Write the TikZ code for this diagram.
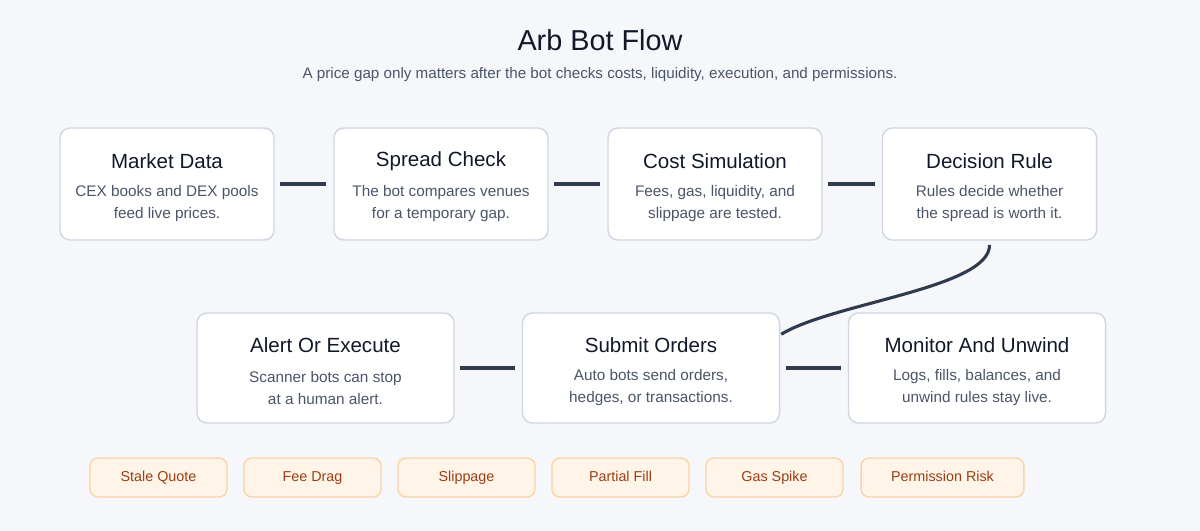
\documentclass[tikz,border=0pt]{standalone}
\usepackage{fontspec}
\setmainfont{Liberation Sans}
\usetikzlibrary{calc}
\definecolor{bgpage}{HTML}{F6F7FB}
\definecolor{cardline}{HTML}{CFD6E2}
\definecolor{ink}{HTML}{111827}
\definecolor{slate}{HTML}{4B5568}
\definecolor{wire}{HTML}{2F3A4C}
\definecolor{chipfill}{HTML}{FFF4E8}
\definecolor{chipline}{HTML}{FAD3A8}
\definecolor{chiptext}{HTML}{9A3E16}

\begin{document}
\begin{tikzpicture}[x=0.025cm, y=-0.025cm,
    card/.style={draw=cardline, line width=1pt, rounded corners=0.25cm, fill=white,
                 minimum width=5.35cm, minimum height=2.8cm},
    widecard/.style={card, minimum width=6.425cm, minimum height=2.75cm},
    ttl/.style={font=\fontsize{14.6}{17}\selectfont, text=ink},
    body/.style={font=\fontsize{10.9}{15.6}\selectfont, text=slate, align=center},
    link/.style={draw=wire, line width=2.2pt, shorten <=4pt, shorten >=5pt},
    chip/.style={draw=chipline, line width=1pt, rounded corners=0.2cm, fill=chipfill,
                 minimum width=3.425cm, minimum height=0.975cm, inner xsep=0.75cm,
                 text height=0.72em, text depth=0.2em,
                 font=\fontsize{10.2}{12}\selectfont, text=chiptext}
]

% Page
\path[fill=bgpage] (0,0) rectangle (1200,531);
\useasboundingbox (0,0) rectangle (1200,531);

% Heading
\node[font=\fontsize{20.5}{24}\selectfont, text=ink] (head) at (600,40) {Arb Bot Flow};
\node[font=\fontsize{10.8}{13}\selectfont, text=slate] (sub) at (600,74.5)
    {A price gap only matters after the bot checks costs, liquidity, execution, and permissions.};

% Top row
\node[card] (mkt) at (167,184) {};
\node[ttl] at (167,161) {Market Data};
\node[body] at (167,204) {CEX books and DEX pools\\feed live prices.};

\node[card] (spread) at (441,184) {};
\node[ttl] at (441,161) {Spread Check};
\node[body] at (441,204) {The bot compares venues\\for a temporary gap.};

\node[card] (cost) at (715,184) {};
\node[ttl] at (715,161) {Cost Simulation};
\node[body] at (715,204) {Fees, gas, liquidity, and\\slippage are tested.};

\node[card] (rule) at (989.5,184) {};
\node[ttl] at (989.5,161) {Decision Rule};
\node[body] at (989.5,204) {Rules decide whether\\the spread is worth it.};

% Bottom row
\node[widecard] (alert) at (325.5,368) {};
\node[ttl] at (325.5,345) {Alert Or Execute};
\node[body] at (325.5,388) {Scanner bots can stop\\at a human alert.};

\node[widecard] (submit) at (651,368) {};
\node[ttl] at (651,345) {Submit Orders};
\node[body] at (651,388) {Auto bots send orders,\\hedges, or transactions.};

\node[widecard] (monitor) at (977,368) {};
\node[ttl] at (977,345) {Monitor And Unwind};
\node[body] at (977,388) {Logs, fills, balances, and\\unwind rules stay live.};

% Connectors
\foreach \a/\b in {mkt/spread, spread/cost, cost/rule, alert/submit, submit/monitor} {
  \draw[link] (\a) -- (\b);
}
\coordinate (join) at ($(submit.north east)+(1,22)$);
\draw[draw=wire, line width=2.2pt, shorten <=3pt]
    (rule.south) .. controls (990,288) and (832,303) .. (join);

% Risks
\foreach \x/\lbl [count=\i] in {158.5/Stale Quote, 312.5/Fee Drag, 466.5/Slippage,
                               620.5/Partial Fill, 774.5/Gas Spike, 942.5/Permission Risk} {
  \node[chip] (risk\i) at (\x,477.5) {\lbl};
}

\end{tikzpicture}
\end{document}
